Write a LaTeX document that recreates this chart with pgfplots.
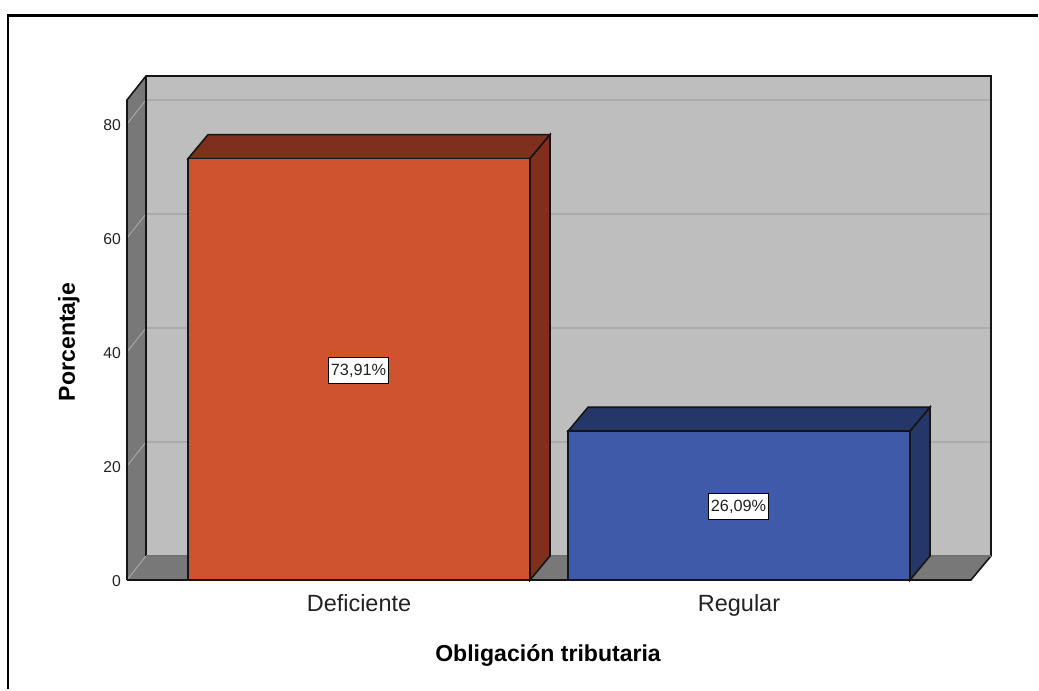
\documentclass[border=0pt]{standalone}
\usepackage{fontspec}
\setmainfont{Liberation Sans}
\usepackage{pgfplots}
\pgfplotsset{compat=1.18}
\definecolor{wall}{HTML}{BEBEBE}
\definecolor{side}{HTML}{787878}
\definecolor{gridc}{HTML}{ABABAB}
\definecolor{sgrid}{HTML}{A8A8A8}
\definecolor{orfront}{HTML}{D0532F}
\definecolor{ordark}{HTML}{7F2F1D}
\definecolor{blfront}{HTML}{3F5AA8}
\definecolor{bldark}{HTML}{253768}
\definecolor{edge}{HTML}{151515}
\definecolor{txt}{HTML}{222222}
\begin{document}
\begin{tikzpicture}[x=1pt,y=1pt]
\begin{axis}[
  scale only axis, width=648pt, height=378pt,
  xmin=127, xmax=991, ymin=0, ymax=88.42,
  clip=false,
  axis line style={draw=none},
  major tick length=0pt,
  xtick={359,739}, xticklabels={Deficiente,Regular},
  ytick={0,20,40,60,80},
  /pgf/number format/assume math mode=true,
  xticklabel style={font=\fontsize{17.6pt}{20pt}\selectfont, text=txt, anchor=base, yshift=-24pt},
  yticklabel style={font=\fontsize{11.8pt}{13pt}\selectfont, text=txt, anchor=east, xshift=-1pt, yshift=-0.75pt},
  xlabel={Obligación tributaria},
  ylabel={Porcentaje},
  xlabel style={font=\bfseries\fontsize{17.3pt}{20pt}\selectfont, at={(axis description cs:0.4873,-0.1507)}, anchor=center},
  ylabel style={font=\bfseries\fontsize{17.3pt}{20pt}\selectfont, at={(axis description cs:-0.0671,0.472)}, anchor=center, rotate=0},
]
% page extent and outer frame
\path (axis cs:0,-19.47) rectangle (axis cs:1039,101.75);
\draw[black, line width=2.2pt] (axis cs:8,-19.2) -- (axis cs:8,99.1) -- (axis cs:1037.5,99.1);
% walls
\addplot[fill=wall, draw=none] coordinates {(146,4.21)(991,4.21)(991,88.42)(146,88.42)} -- cycle;
\addplot[fill=side, draw=none] coordinates {(127,0)(146,4.21)(146,88.42)(127,84.21)} -- cycle;
\addplot[fill=side, draw=none] coordinates {(127,0)(971,0)(991,4.21)(146,4.21)} -- cycle;
% grid lines
\addplot[gridc, line width=1pt] coordinates {(146,84.21)(991,84.21)};
\addplot[gridc, line width=1pt] coordinates {(146,64.21)(991,64.21)};
\addplot[gridc, line width=1pt] coordinates {(146,44.21)(991,44.21)};
\addplot[gridc, line width=1pt] coordinates {(146,24.21)(991,24.21)};
\addplot[sgrid, line width=0.7pt] coordinates {(127,80)(146,84.21)};
\addplot[sgrid, line width=0.7pt] coordinates {(127,60)(146,64.21)};
\addplot[sgrid, line width=0.7pt] coordinates {(127,40)(146,44.21)};
\addplot[sgrid, line width=0.7pt] coordinates {(127,20)(146,24.21)};
\addplot[sgrid, line width=0.7pt] coordinates {(127,0)(146,4.21)};
% wall outlines
\addplot[edge, line width=1.2pt] coordinates {(127,0)(127,84.21)(146,88.42)(991,88.42)(991,4.21)(971,0)(127,0)};
\addplot[edge, line width=1.2pt] coordinates {(146,88.42)(146,4.21)};
\addplot[black!55, line width=1pt] coordinates {(146,4.21)(991,4.21)};
% bar 1
\addplot[fill=ordark, draw=edge, line width=1.2pt] coordinates {(188,73.91)(530,73.91)(550,78.12)(208,78.12)} -- cycle;
\addplot[fill=ordark, draw=edge, line width=1.2pt] coordinates {(530,0)(550,4.21)(550,78.12)(530,73.91)} -- cycle;
\addplot[fill=orfront, draw=edge, line width=1.2pt] coordinates {(188,0)(530,0)(530,73.91)(188,73.91)} -- cycle;
% bar 2
\addplot[fill=bldark, draw=edge, line width=1.2pt] coordinates {(568,26.09)(910,26.09)(930,30.30)(588,30.30)} -- cycle;
\addplot[fill=bldark, draw=edge, line width=1.2pt] coordinates {(910,0)(930,4.21)(930,30.30)(910,26.09)} -- cycle;
\addplot[fill=blfront, draw=edge, line width=1.2pt] coordinates {(568,0)(910,0)(910,26.09)(568,26.09)} -- cycle;
% value labels
\addplot[draw=none, mark=none, point meta=explicit symbolic,
  nodes near coords,
  nodes near coords align={anchor=center},
  every node near coord/.append style={font=\fontsize{12.2pt}{14pt}\selectfont, text=txt, fill=white, draw=black, line width=0.8pt, inner xsep=1.6pt, inner ysep=0pt, minimum height=19.5pt, anchor=center}]
  coordinates {(358.5,36.7)[73,91\%] (738.5,12.85)[26,09\%]};
\end{axis}
\end{tikzpicture}
\end{document}
